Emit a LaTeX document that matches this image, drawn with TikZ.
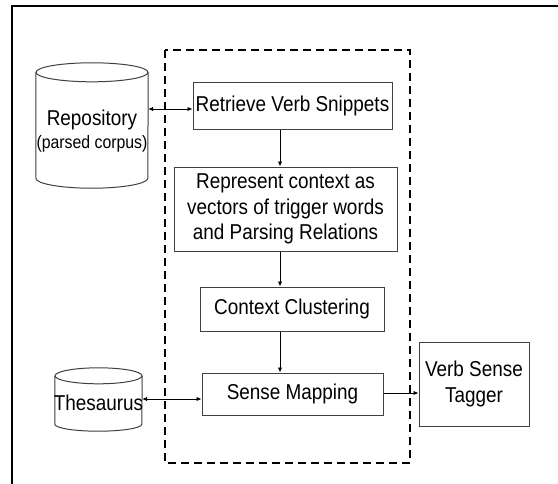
\documentclass[tikz,border=0pt]{standalone}
\usepackage{fontspec}
\setmainfont{Liberation Sans}[FakeStretch=0.88]
\usetikzlibrary{arrows.meta}

\tikzset{
  boxline/.style={draw=black!75, line width=1pt},
  stepbox/.style={boxline, rectangle, align=center, inner sep=0pt,
    font=\fontsize{21.5}{25.5}\selectfont},
  canshape/.style={rectangle, inner sep=0pt},
  cantext/.style={align=center, inner sep=0pt, font=\fontsize{21.5}{25.5}\selectfont},
  flow/.style={draw=black, line width=0.9pt, -{Latex[length=5pt,width=4.5pt]}},
  flowboth/.style={draw=black, line width=0.9pt, {Latex[length=5pt,width=4.5pt]}-{Latex[length=5pt,width=4.5pt]}},
  frame/.style={draw=black, line width=2.6pt},
  module/.style={draw=black, line width=2.6pt, dash pattern=on 8pt off 5pt}
}

\begin{document}
\begin{tikzpicture}[x=1pt, y=-1pt]
  \useasboundingbox (0,0) rectangle (558,483);

  % outer frame (runs past the page edges)
  \draw[frame] (12,500) -- (12,6) -- (570,6);

  % dashed module boundary
  \draw[module] (165,50) rectangle (410,463);

  % processing steps
  \node[stepbox, minimum width=199pt, minimum height=47pt] (ret) at (292.5,105.5) {Retrieve Verb Snippets};
  \node[stepbox, minimum width=223pt, minimum height=84pt] (rep) at (285.5,209)
    {Represent context as\\vectors of trigger words\\and Parsing Relations};
  \node[stepbox, minimum width=184pt, minimum height=44pt] (clu) at (292,309) {Context Clustering};
  \node[stepbox, minimum width=181pt, minimum height=42pt] (sen) at (292.5,394) {Sense Mapping};
  \node[stepbox, minimum width=110pt, minimum height=84pt] (tag) at (474,384) {Verb Sense\\Tagger};

  % repository cylinder
  \node[canshape, minimum width=112pt, minimum height=125pt] (repo) at (92,125.5) {};
  \draw[boxline, fill=white] ([yshift=-9.5pt]repo.north west) -- ([yshift=10pt]repo.south west)
    arc[start angle=180, end angle=360, x radius=56pt, y radius=10pt]
    -- ([yshift=-9.5pt]repo.north east);
  \draw[boxline] ([yshift=-9.5pt]repo.north) ellipse [x radius=56pt, y radius=9.5pt];
  \node[cantext] (repotxt) at (92,131) {Repository\\[-2pt]{\fontsize{18}{20}\selectfont (parsed corpus)}};

  % thesaurus cylinder
  \node[canshape, minimum width=87pt, minimum height=63pt] (thes) at (98.5,399.5) {};
  \draw[boxline, fill=white] ([yshift=-8pt]thes.north west) -- ([yshift=7pt]thes.south west)
    arc[start angle=180, end angle=360, x radius=43.5pt, y radius=7pt]
    -- ([yshift=-8pt]thes.north east);
  \draw[boxline] ([yshift=-8pt]thes.north) ellipse [x radius=43.5pt, y radius=8pt];
  \node[cantext] (thestxt) at (98.5,403) {Thesaurus};

  % connector guides
  \coordinate (ax) at (280,0);
  \coordinate (ya) at (0,109);
  \coordinate (yb) at (0,399);
  \coordinate (yc) at (0,393);

  % connectors
  \draw[flowboth] (repo.east |- ya) -- (ret.west |- ya);
  \draw[flow] (ret.south -| ax) -- (rep.north -| ax);
  \draw[flow] (rep.south -| ax) -- (clu.north -| ax);
  \draw[flow] (clu.south -| ax) -- (sen.north -| ax);
  \draw[flowboth] (thes.east |- yb) -- (sen.west |- yb);
  \draw[flow] (sen.east |- yc) -- (tag.west |- yc);
\end{tikzpicture}
\end{document}
